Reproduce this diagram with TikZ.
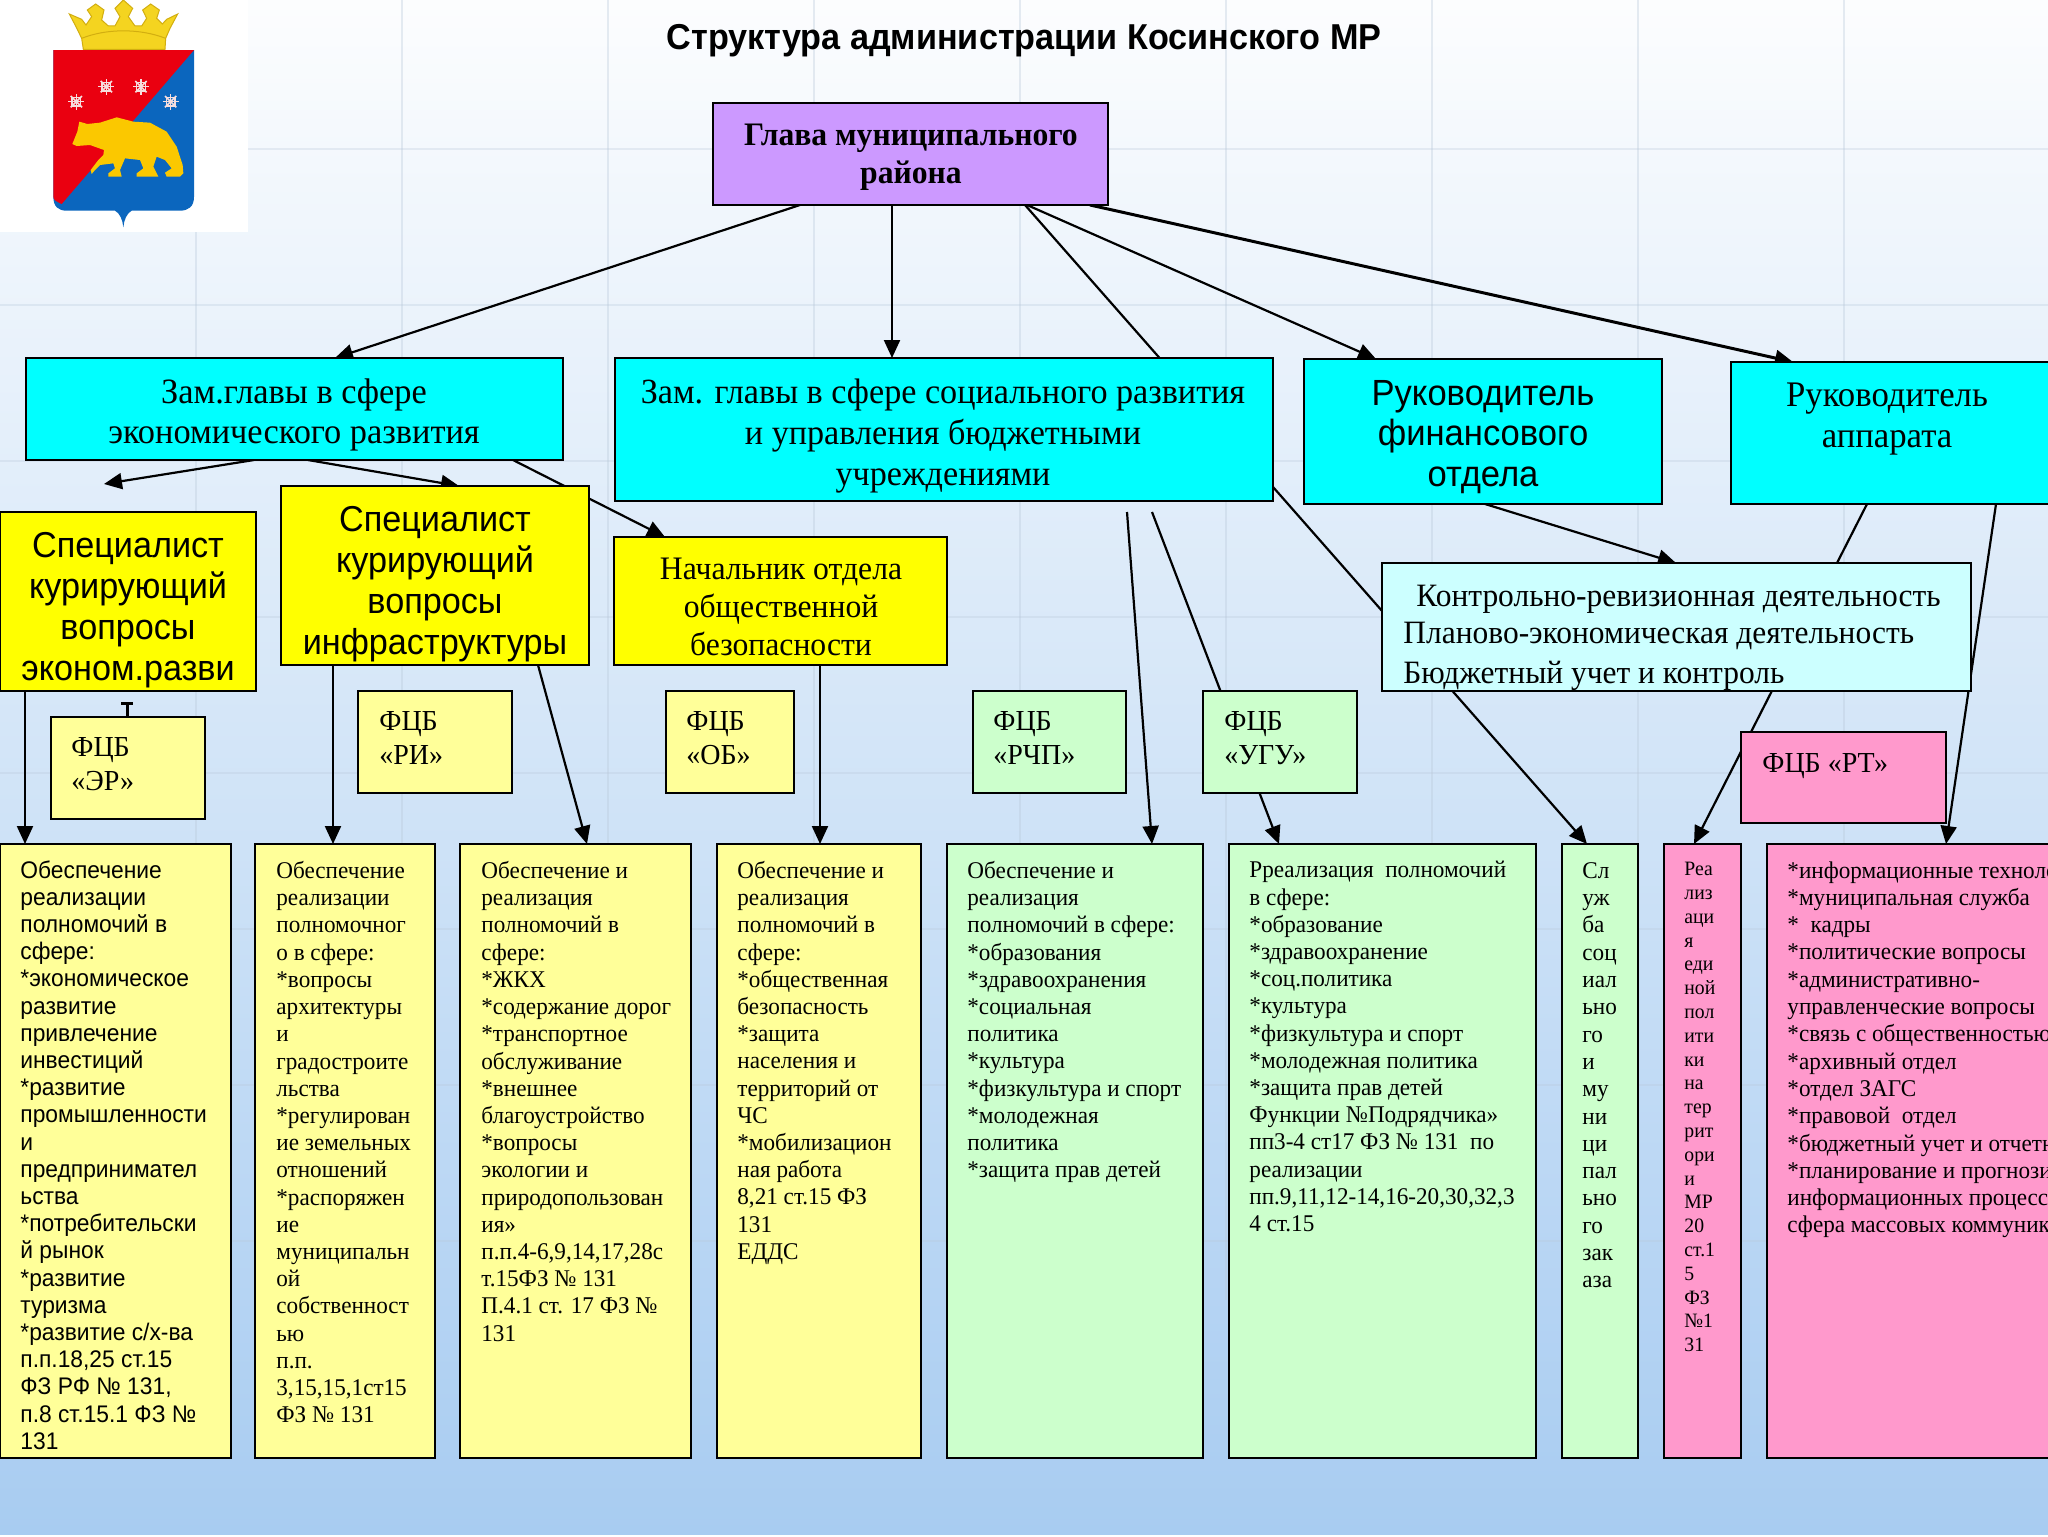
\documentclass[tikz,border=0pt]{standalone}
\usepackage{fontspec}
\setmainfont[FakeStretch=0.965]{Liberation Serif}
\setsansfont[FakeStretch=0.95]{Liberation Sans}
\usetikzlibrary{arrows.meta,calc}
\definecolor{cHead}{HTML}{CC99FF}
\definecolor{cCyan}{HTML}{00FFFF}
\definecolor{cYel}{HTML}{FFFF00}
\definecolor{cLY}{HTML}{FFFF99}
\definecolor{cGr}{HTML}{CCFFCC}
\definecolor{cLC}{HTML}{CCFFFF}
\definecolor{cPk}{HTML}{FF99CC}
\definecolor{bgTop}{HTML}{FCFDFE}
\definecolor{bgMid}{HTML}{DDE9F8}
\definecolor{bgBot}{HTML}{A8CCF1}
\definecolor{gridc}{HTML}{B9C9DA}
\definecolor{shBlue}{HTML}{0B66BE}
\definecolor{shRed}{HTML}{EA0010}
\definecolor{gold}{HTML}{FBC800}
\definecolor{crown}{HTML}{F4D420}
\definecolor{crownd}{HTML}{D2AE10}
\definecolor{flake}{HTML}{F6DEDE}
\newcommand{\fpx}[2]{\fontsize{#1}{#2}\selectfont}
\newcommand{\rbox}[6]{\node[boxst,#6,anchor=north west,minimum width={(#4-#2)*0.5pt},minimum height={(#5-#3)*0.5pt}] (#1) at (#2,#3) {};}
\newcommand{\tlab}[5]{\node[anchor=north west,inner sep=0pt,align=left,font=#4] (#1) at (#2,#3) {#5};}
\newcommand{\clab}[5]{\node[inner sep=0pt,align=center,font=#4] (#1) at (#2,#3) {#5};}
\pgfdeclarelayer{back}
\pgfdeclarelayer{conn}
\pgfsetlayers{back,conn,main}
\tikzset{
  boxst/.style={draw=black,line width=1.4pt,inner sep=0pt,outer sep=0pt,align=center},
  wire/.style={draw=black,line width=1.1pt},
  wirebold/.style={draw=black,line width=1.5pt},
  arr/.style={-{Triangle[length=9pt,width=8pt]}},
}
\begin{document}
\begin{tikzpicture}[x=0.5pt,y=-0.5pt]
\useasboundingbox (0,0) rectangle (2048,1536);
\begin{pgfonlayer}{back}
  \shade[top color=bgTop,middle color=bgMid,bottom color=bgBot,shading angle=0] (0,0) rectangle (2048,1534);
  \foreach \gx in {196,402,608,814,1020,1226,1432,1638,1844}
    \draw[gridc,line width=1.2pt,opacity=.35] (\gx,0) -- (\gx,1300);
  \foreach \gy in {149,305,461,617,773,929,1085,1241}
    \draw[gridc,line width=1.2pt,opacity=.3] (0,\gy) -- (2048,\gy);
  % logo
  \fill[white] (0,0) rectangle (248,232);
  \begin{scope}[x=0.16667pt,y=-0.16667pt]
    \path[fill=crown,draw=crownd,line width=.5pt] (250,148)--(245,115)--(228,80)--(208,42)--(245,58)--(258,75)--(275,50)--(262,30)--(287,12)--(312,30)--(305,60)--(325,78)--(345,78)--(360,50)--(345,25)--(370,0)--(398,25)--(385,50)--(405,78)--(425,78)--(440,55)--(428,30)--(452,12)--(478,30)--(470,55)--(487,72)--(500,58)--(533,42)--(510,85)--(497,115)--(495,148)--cycle;
    \draw[crownd,line width=.5pt] (245,115) .. controls (320,85) and (420,85) .. (497,115);
    \fill[shBlue] (160,150)--(582,150)--(582,590) .. controls (582,620) and (565,632) .. (540,632)--(395,632) .. controls (380,640) and (372,660) .. (370,682) .. controls (368,660) and (360,640) .. (345,632)--(200,632) .. controls (175,632) and (160,620) .. (160,590)--cycle;
    \fill[shRed] (160,150)--(582,150)--(185,612) .. controls (170,605) and (160,600) .. (160,590)--cycle;
    \foreach \sx/\sy in {229/305,319/260,423/260,512/305}{
      \foreach \a in {0,45,...,135}
        \draw[flake,line width=.8pt,rotate around={\a:(\sx,\sy)}] (\sx-24,\sy)--(\sx+24,\sy);
      \draw[flake,line width=.8pt] (\sx-13,\sy-13) rectangle (\sx+13,\sy+13);
    }
    \path[fill=gold] (217,432)--(232,395)--(238,365)--(262,372)--(300,368)--(350,352)--(400,365)--(450,368)--(500,395)--(530,440)--(548,495)--(550,520)--(540,530)--(500,530)--(495,518)--(515,505)--(495,480)--(470,470)--(460,500)--(470,520)--(475,530)--(410,530)--(410,520)--(430,505)--(420,480)--(375,475)--(360,510)--(365,530)--(325,530)--(325,520)--(345,505)--(340,490)--(300,495)--(285,510)--(275,522)--(272,510)--(295,480)--(310,465)--(312,450)--(270,435)--(230,438)--cycle;
  \end{scope}
\end{pgfonlayer}

\node[font=\sffamily\bfseries\fpx{18}{22},inner sep=0pt] (title) at (1024,41) {Структура администрации Косинского МР};

% upper boxes
\rbox{head}{713}{103}{1108}{205}{fill=cHead}
\clab{headt}{911}{157}{\bfseries\fpx{16.4}{19}}{Глава муниципального\\района}
\rbox{zam1}{26}{358}{563}{460}{fill=cCyan}
\clab{zam1t}{294}{415}{\fpx{17.8}{20.4}}{Зам.главы в сфере\\экономического развития}
\rbox{zam2}{615}{358}{1273}{501}{fill=cCyan}
\clab{zam2t}{943}{436}{\fpx{17.7}{20.4}}{Зам. главы в сфере социального развития\\и управления бюджетными\\учреждениями}
\rbox{fin}{1304}{359}{1662}{504}{fill=cCyan}
\clab{fint}{1483}{437}{\sffamily\fpx{18.2}{20.4}}{Руководитель\\финансового\\отдела}
\rbox{app}{1731}{362}{2056}{504}{fill=cCyan}
\clab{appt}{1887}{419}{\fpx{18}{20.4}}{Руководитель\\аппарата}

\rbox{sp1}{0}{512}{256}{691}{fill=cYel}
\clab{sp1t}{128}{610}{\sffamily\fpx{18}{20.4}}{Специалист\\курирующий\\вопросы\\эконом.разви}
\rbox{sp2}{281}{486}{589}{665}{fill=cYel}
\clab{sp2t}{435}{584}{\sffamily\fpx{18}{20.4}}{Специалист\\курирующий\\вопросы\\инфраструктуры}
\rbox{nach}{614}{537}{947}{665}{fill=cYel}
\clab{nacht}{781}{607}{\fpx{16.4}{18.9}}{Начальник отдела\\общественной\\безопасности}

\rbox{kr}{1382}{563}{1971}{691}{fill=cLC}
\tlab{krt1}{1416}{585}{\fpx{16.3}{19}}{Контрольно-ревизионная деятельность}
\tlab{krt2}{1403}{622}{\fpx{16.3}{19}}{Планово-экономическая деятельность}
\tlab{krt3}{1403}{661}{\fpx{16.3}{19}}{Бюджетный учет и контроль}

% FCB
\rbox{fer}{51}{717}{205}{819}{fill=cLY}
\tlab{fert}{71}{737}{\fpx{14.5}{17}}{ФЦБ\\«ЭР»}
\rbox{fri}{358}{691}{512}{793}{fill=cLY}
\tlab{frit}{379}{711}{\fpx{14.5}{17}}{ФЦБ\\«РИ»}
\rbox{fob}{666}{691}{794}{793}{fill=cLY}
\tlab{fobt}{686}{711}{\fpx{14.5}{17}}{ФЦБ\\«ОБ»}
\rbox{frc}{973}{691}{1126}{793}{fill=cGr}
\tlab{frct}{993}{711}{\fpx{14.5}{17}}{ФЦБ\\«РЧП»}
\rbox{fug}{1203}{691}{1357}{793}{fill=cGr}
\tlab{fugt}{1224}{711}{\fpx{14.5}{17}}{ФЦБ\\«УГУ»}
\rbox{frt}{1741}{732}{1946}{823}{fill=cPk}
\tlab{frtt}{1762}{753}{\fpx{14.5}{17}}{ФЦБ «РТ»}

% lower boxes
\rbox{b1}{0}{844}{231}{1458}{fill=cLY}
\tlab{b1t}{20}{860}{\sffamily\fpx{12}{13.6}}{Обеспечение\\реализации\\полномочий в\\сфере:\\*экономическое\\развитие\\привлечение\\инвестиций\\*развитие\\промышленности\\и\\предпринимател\\ьства\\*потребительски\\й рынок\\*развитие\\туризма\\*развитие с/х-ва\\п.п.18,25 ст.15\\ФЗ РФ № 131,\\п.8 ст.15.1 ФЗ №\\131}
\rbox{b2}{255}{844}{435}{1458}{fill=cLY}
\tlab{b2t}{276}{861}{\fpx{12}{13.6}}{Обеспечение\\реализации\\полномочног\\о в сфере:\\*вопросы\\архитектуры\\и\\градостроите\\льства\\*регулирован\\ие земельных\\отношений\\*распоряжен\\ие\\муниципальн\\ой\\собственност\\ью\\п.п.\\3,15,15,1ст15\\ФЗ № 131}
\rbox{b3}{460}{844}{691}{1458}{fill=cLY}
\tlab{b3t}{481}{861}{\fpx{12}{13.6}}{Обеспечение и\\реализация\\полномочий в\\сфере:\\*ЖКХ\\*содержание дорог\\*транспортное\\обслуживание\\*внешнее\\благоустройство\\*вопросы\\экологии и\\природопользован\\ия»\\п.п.4-6,9,14,17,28с\\т.15ФЗ № 131\\П.4.1 ст. 17 ФЗ №\\131}
\rbox{b4}{717}{844}{921}{1458}{fill=cLY}
\tlab{b4t}{737}{861}{\fpx{12}{13.6}}{Обеспечение и\\реализация\\полномочий в\\сфере:\\*общественная\\безопасность\\*защита\\населения и\\территорий от\\ЧС\\*мобилизацион\\ная работа\\8,21 ст.15 ФЗ\\131\\ЕДДС}
\rbox{b5}{947}{844}{1203}{1458}{fill=cGr}
\tlab{b5t}{967}{861}{\fpx{12}{13.6}}{Обеспечение и\\реализация\\полномочий в сфере:\\*образования\\*здравоохранения\\*социальная\\политика\\*культура\\*физкультура и спорт\\*молодежная\\политика\\*защита прав детей}
\rbox{b6}{1229}{844}{1536}{1458}{fill=cGr}
\tlab{b6t}{1249}{861}{\fpx{12}{13.6}}{Рреализация\ \ полномочий\\в сфере:\\*образование\\*здравоохранение\\*соц.политика\\*культура\\*физкультура и спорт\\*молодежная политика\\*защита прав детей\\Функции №Подрядчика»\\пп3-4 ст17 ФЗ № 131\ \ по\\реализации\\пп.9,11,12-14,16-20,30,32,3\\4 ст.15}
\rbox{b7}{1562}{844}{1638}{1458}{fill=cGr}
\tlab{b7t}{1582}{862}{\fpx{12}{13.65}}{Сл\\уж\\ба\\соц\\иал\\ьно\\го\\и\\му\\ни\\ци\\пал\\ьно\\го\\зак\\аза}
\rbox{b8}{1664}{844}{1741}{1458}{fill=cPk}
\tlab{b8t}{1684}{862}{\fpx{10.2}{11.9}}{Реа\\лиз\\аци\\я\\еди\\ной\\пол\\ити\\ки\\на\\тер\\рит\\ори\\и\\МР\\20\\ст.1\\5\\ФЗ\\№1\\31}
\rbox{b9}{1767}{844}{2056}{1458}{fill=cPk}
\tlab{b9t}{1787}{861}{\fpx{12}{13.65}}{*информационные техноло\\*муниципальная служба\\*\ \ кадры\\*политические вопросы\\*административно-\\управленческие вопросы\\*связь с общественностью\\*архивный отдел\\*отдел ЗАГС\\*правовой\ \ отдел\\*бюджетный учет и отчетн\\*планирование и прогнози\\информационных процессо\\сфера массовых коммуник}

% free ends
\coordinate (freeL) at (104,484);
\coordinate (freeA) at (1127,512);
\coordinate (freeB) at (1152,512);
\coordinate (tick) at (127,703);

\begin{pgfonlayer}{conn}
  \draw[wire,arr] ($(head.south west)+(87,0)$) -- ($(zam1.north west)+(309,0)$);
  \draw[wire,arr] ($(head.south west)+(179,0)$) -- ($(zam2.north west)+(277,0)$);
  \draw[wire,arr] ($(head.south west)+(312,0)$) -- ($(b7.north west)+(25,0)$);
  \draw[wire,arr] ($(head.south west)+(314,0)$) -- ($(fin.north west)+(72,0)$);
  \draw[wirebold,arr] ($(head.south west)+(377,0)$) -- ($(app.north west)+(62,0)$);
  \draw[wire,arr] ($(zam1.south west)+(228,0)$) -- (freeL);
  \draw[wire,arr] ($(zam1.south west)+(282,0)$) -- ($(sp2.north west)+(178,0)$);
  \draw[wire,arr] ($(zam1.south west)+(487,0)$) -- ($(nach.north west)+(51,0)$);
  \draw[wire,arr] ($(sp1.south west)+(25,0)$) -- ($(b1.north west)+(25,0)$);
  \draw[wire,arr] ($(sp2.south west)+(52,0)$) -- ($(b2.north west)+(78,0)$);
  \draw[wire,arr] ($(sp2.south west)+(257,0)$) -- ($(b3.north west)+(127,0)$);
  \draw[wire,arr] ($(nach.south west)+(206,0)$) -- ($(b4.north west)+(103,0)$);
  \draw[wire,arr] (freeA) -- ($(b5.north west)+(205,0)$);
  \draw[wire,arr] (freeB) -- ($(b6.north west)+(50,0)$);
  \draw[wire,arr] ($(fin.south west)+(181,0)$) -- ($(kr.north west)+(294,0)$);
  \draw[wire,arr] ($(app.south west)+(136,0)$) -- ($(b8.north west)+(30,0)$);
  \draw[wire,arr] ($(app.south west)+(265,0)$) -- ($(b9.north west)+(179,0)$);
  \draw[wirebold] (tick) -- ($(fer.north west)+(76,0)$);
  \draw[wirebold] ($(tick)+(-6,0)$) -- ($(tick)+(6,0)$);
\end{pgfonlayer}
\end{tikzpicture}
\end{document}
